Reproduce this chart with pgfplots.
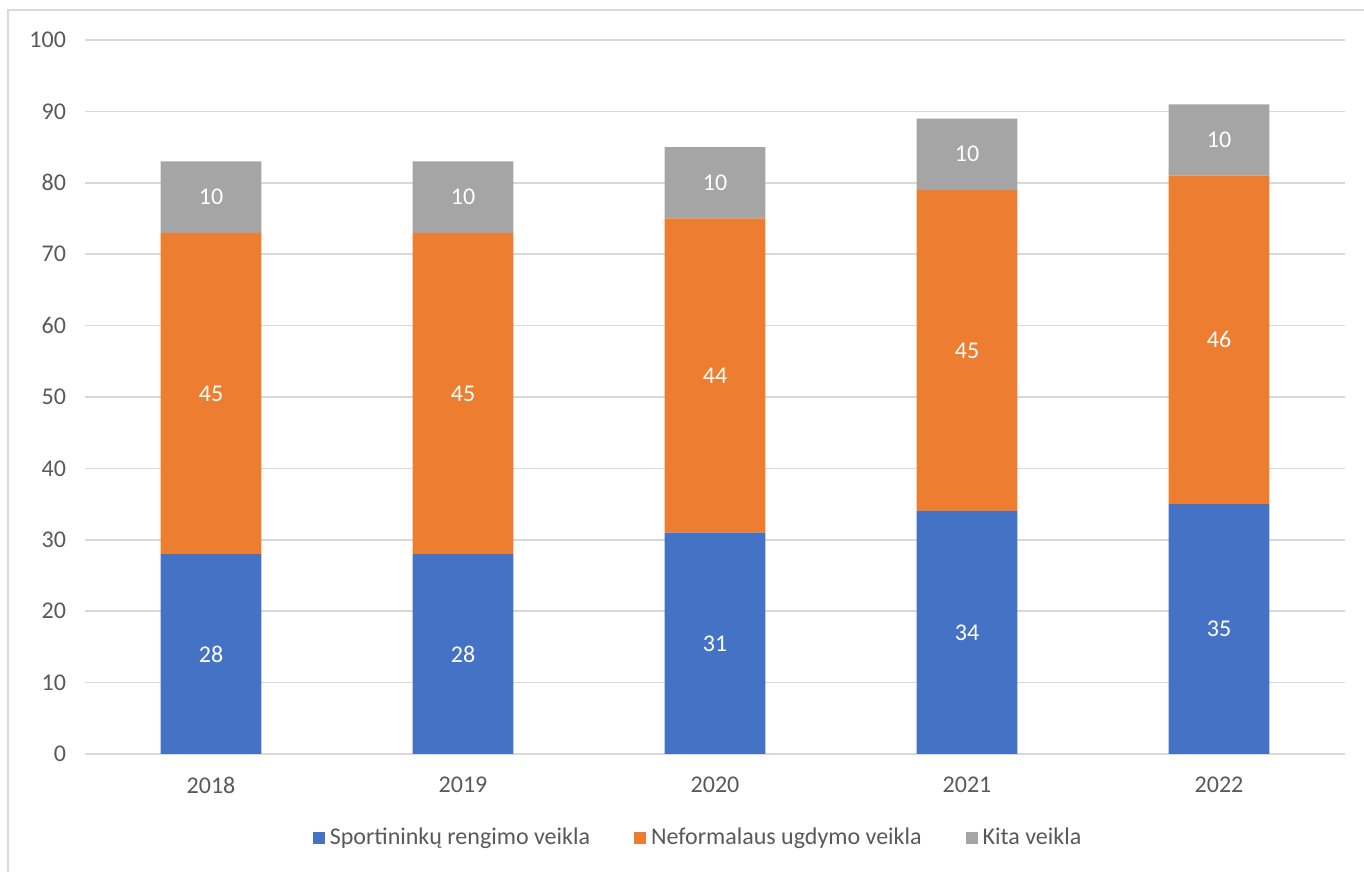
\documentclass[border=0pt]{standalone}
\usepackage{fontspec}
\setmainfont{Carlito}
\usepackage{pgfplots}
\pgfplotsset{compat=1.18}
\definecolor{cblue}{HTML}{4472C4}
\definecolor{corange}{HTML}{ED7D31}
\definecolor{cgray}{HTML}{A5A5A5}
\definecolor{gridc}{HTML}{D9D9D9}
\definecolor{txt}{HTML}{595959}
\begin{document}
\begin{tikzpicture}
\path[use as bounding box] (0,0) rectangle (682pt,436pt);
\draw[gridc, line width=0.6pt] (4pt,0) -- (4pt,431pt) -- (682pt,431pt);
\begin{axis}[
  at={(42.5pt,59pt)}, anchor=south west,
  scale only axis, width=630pt, height=357pt,
  ybar stacked, bar width=0.4,
  xmin=-0.5, xmax=4.5, ymin=0, ymax=100,
  xtick={0,1,2,3,4}, xticklabels={2018,2019,2020,2021,2022},
  ytick={0,10,...,100},
  /pgf/number format/assume math mode=true,
  major tick length=0pt,
  ymajorgrids, grid style={gridc, line width=0.75pt},
  separate axis lines,
  y axis line style={draw=none},
  x axis line style={draw=gridc, line width=0.75pt},
  axis x line*=bottom,
  tick label style={font=\fontsize{12}{14}\selectfont, text=txt},
  xticklabel style={yshift=-8pt},
  yticklabel style={xshift=-6pt},
  nodes near coords,
  nodes near coords style={font=\fontsize{12}{14}\selectfont, text=white, anchor=center},
  legend style={at={(rel axis cs:0.5,0)}, anchor=center, yshift=-42pt, xshift=-8pt, draw=none,
    font=\fontsize{12}{14}\selectfont, text=txt, column sep=0pt,
    /tikz/every odd column/.append style={column sep=0.5pt},
    /tikz/every even column/.append style={column sep=20pt}},
  legend columns=-1,
  legend image code/.code={\fill[#1] (0pt,-3pt) rectangle (6pt,3pt);},
]
\addplot[fill=cblue, draw=none] coordinates {(0,28) (1,28) (2,31) (3,34) (4,35)};
\addplot[fill=corange, draw=none] coordinates {(0,45) (1,45) (2,44) (3,45) (4,46)};
\addplot[fill=cgray, draw=none] coordinates {(0,10) (1,10) (2,10) (3,10) (4,10)};
\legend{Sportininkų rengimo veikla, Neformalaus ugdymo veikla, Kita veikla}
\end{axis}
\end{tikzpicture}
\end{document}
